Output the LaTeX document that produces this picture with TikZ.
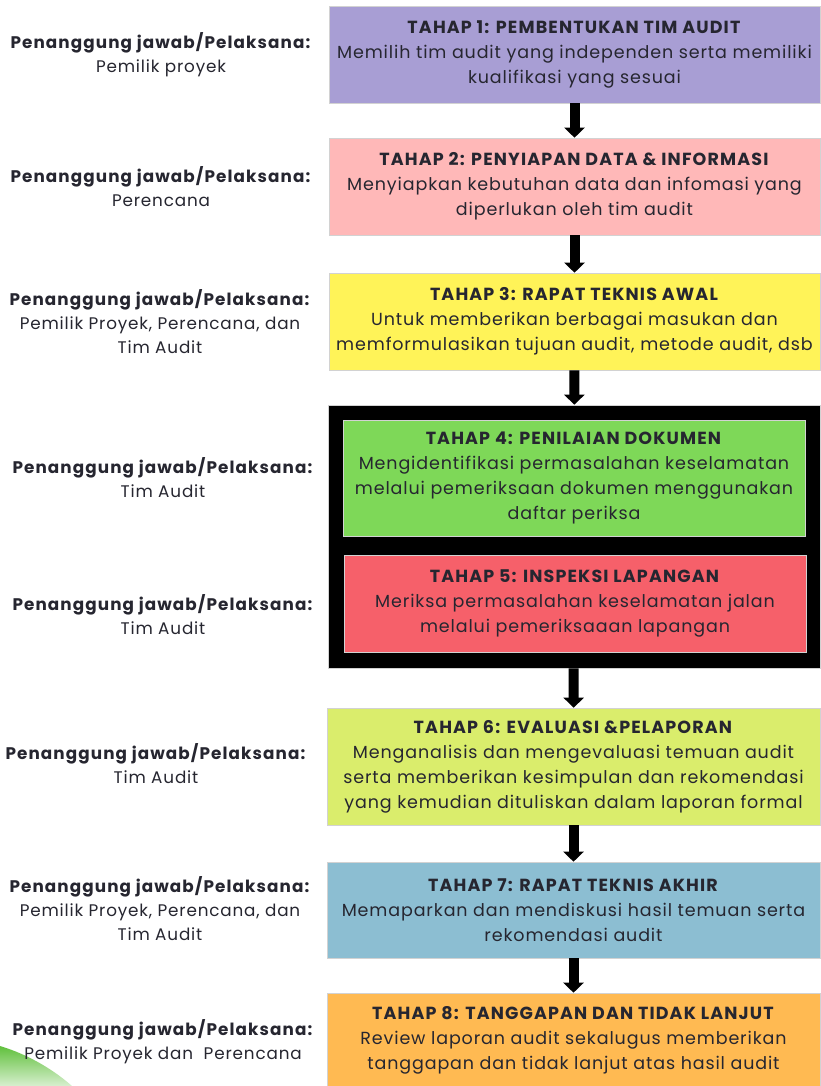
\documentclass[tikz,border=0pt]{standalone}
\usepackage{fontspec}
\setmainfont{Poppins}[LetterSpace=5,BoldFeatures={LetterSpace=6.5}]
\usetikzlibrary{arrows.meta}
\definecolor{teks}{RGB}{38,38,48}
\definecolor{ungu}{RGB}{168,158,212}
\definecolor{merahmuda}{RGB}{255,184,184}
\definecolor{kuning}{RGB}{255,243,88}
\definecolor{hijau}{RGB}{126,216,88}
\definecolor{merah}{RGB}{246,96,106}
\definecolor{limau}{RGB}{218,237,108}
\definecolor{biru}{RGB}{140,190,210}
\definecolor{jingga}{RGB}{255,186,82}
\definecolor{daun}{RGB}{96,192,60}
\tikzset{
  tahap/.style={draw=gray!35,line width=.6,text=teks,align=center,inner sep=0,
    minimum width=491,minimum height=97,font=\fontsize{17.5}{25}\selectfont},
  pj/.style={align=center,text=teks,font=\fontsize{16.8}{24}\selectfont},
  panah/.style={-{Triangle[width=20pt,length=10pt]},line width=10pt,black},
}
\begin{document}
\begin{tikzpicture}[x=1pt,y=-1pt]

\useasboundingbox (0,0) rectangle (820,1086);
\fill[white] (0,0) rectangle (820,1086);
\shade[top color=daun,bottom color=daun!25] (0,1046) .. controls (30,1055) and (55,1071) .. (72,1086) -- (0,1086) -- cycle;

\node[tahap,fill=ungu] (tahap1) at (574.5,54.5) {\textbf{TAHAP 1: PEMBENTUKAN TIM AUDIT}\\Memilih tim audit yang independen serta memiliki\\kualifikasi yang sesuai};
\node[tahap,fill=merahmuda] (tahap2) at (574.5,186.5) {\textbf{TAHAP 2: PENYIAPAN DATA \& INFORMASI}\\Menyiapkan kebutuhan data dan infomasi yang\\diperlukan oleh tim audit};
\node[tahap,fill=kuning] (tahap3) at (574.5,321.5) {\textbf{TAHAP 3: RAPAT TEKNIS AWAL}\\Untuk memberikan berbagai masukan dan\\memformulasikan tujuan audit, metode audit, dsb};
\node[tahap,fill=black,minimum width=492,minimum height=263] (kotak) at (574,536.5) {};
\node[tahap,fill=hijau,minimum width=462,minimum height=116] (tahap4) at (574,478) {\textbf{TAHAP 4: PENILAIAN DOKUMEN}\\Mengidentifikasi permasalahan keselamatan\\melalui pemeriksaan dokumen menggunakan\\daftar periksa};
\node[tahap,fill=merah,minimum width=462] (tahap5) at (575,603.5) {\textbf{TAHAP 5: INSPEKSI LAPANGAN}\\Meriksa permasalahan keselamatan jalan\\melalui pemeriksaaan lapangan};
\node[tahap,fill=limau,minimum width=493,minimum height=117] (tahap6) at (573.5,766.5) {\textbf{TAHAP 6: EVALUASI \&PELAPORAN}\\Menganalisis dan mengevaluasi temuan audit\\serta memberikan kesimpulan dan rekomendasi\\yang kemudian dituliskan dalam laporan formal};
\node[tahap,fill=biru,minimum width=493,minimum height=96] (tahap7) at (573.5,910) {\textbf{TAHAP 7: RAPAT TEKNIS AKHIR}\\Memaparkan dan mendiskusi hasil temuan serta\\rekomendasi audit};
\node[tahap,fill=jingga,minimum width=493,minimum height=94] (tahap8) at (573.5,1040) {\textbf{TAHAP 8: TANGGAPAN DAN TIDAK LANJUT}\\Review laporan audit sekalugus memberikan\\tanggapan dan tidak lanjut atas hasil audit};

\node[pj] (pj1) at (161,55) {\textbf{Penanggung jawab/Pelaksana:}\\Pemilik proyek};
\node[pj] (pj2) at (161,187) {\textbf{Penanggung jawab/Pelaksana:}\\Perencana};
\node[pj] (pj3) at (160,322) {\textbf{Penanggung jawab/Pelaksana:}\\Pemilik Proyek, Perencana, dan\\Tim Audit};
\node[pj] (pj4) at (163,478) {\textbf{Penanggung jawab/Pelaksana:}\\Tim Audit};
\node[pj] (pj5) at (163,615) {\textbf{Penanggung jawab/Pelaksana:}\\Tim Audit};
\node[pj] (pj6) at (156,764) {\textbf{Penanggung jawab/Pelaksana:}\\Tim Audit};
\node[pj] (pj7) at (160,909) {\textbf{Penanggung jawab/Pelaksana:}\\Pemilik Proyek, Perencana, dan\\Tim Audit};
\node[pj] (pj8) at (163,1042) {\textbf{Penanggung jawab/Pelaksana:}\\Pemilik Proyek dan\ \ Perencana};

\draw[panah] (tahap1) -- (tahap2);
\draw[panah] (tahap2) -- (tahap3);
\draw[panah] (tahap3) -- (kotak);
\draw[panah] (kotak) -- (tahap6);
\draw[panah] (tahap6) -- (tahap7);
\draw[panah] (tahap7) -- (tahap8);

\end{tikzpicture}
\end{document}
